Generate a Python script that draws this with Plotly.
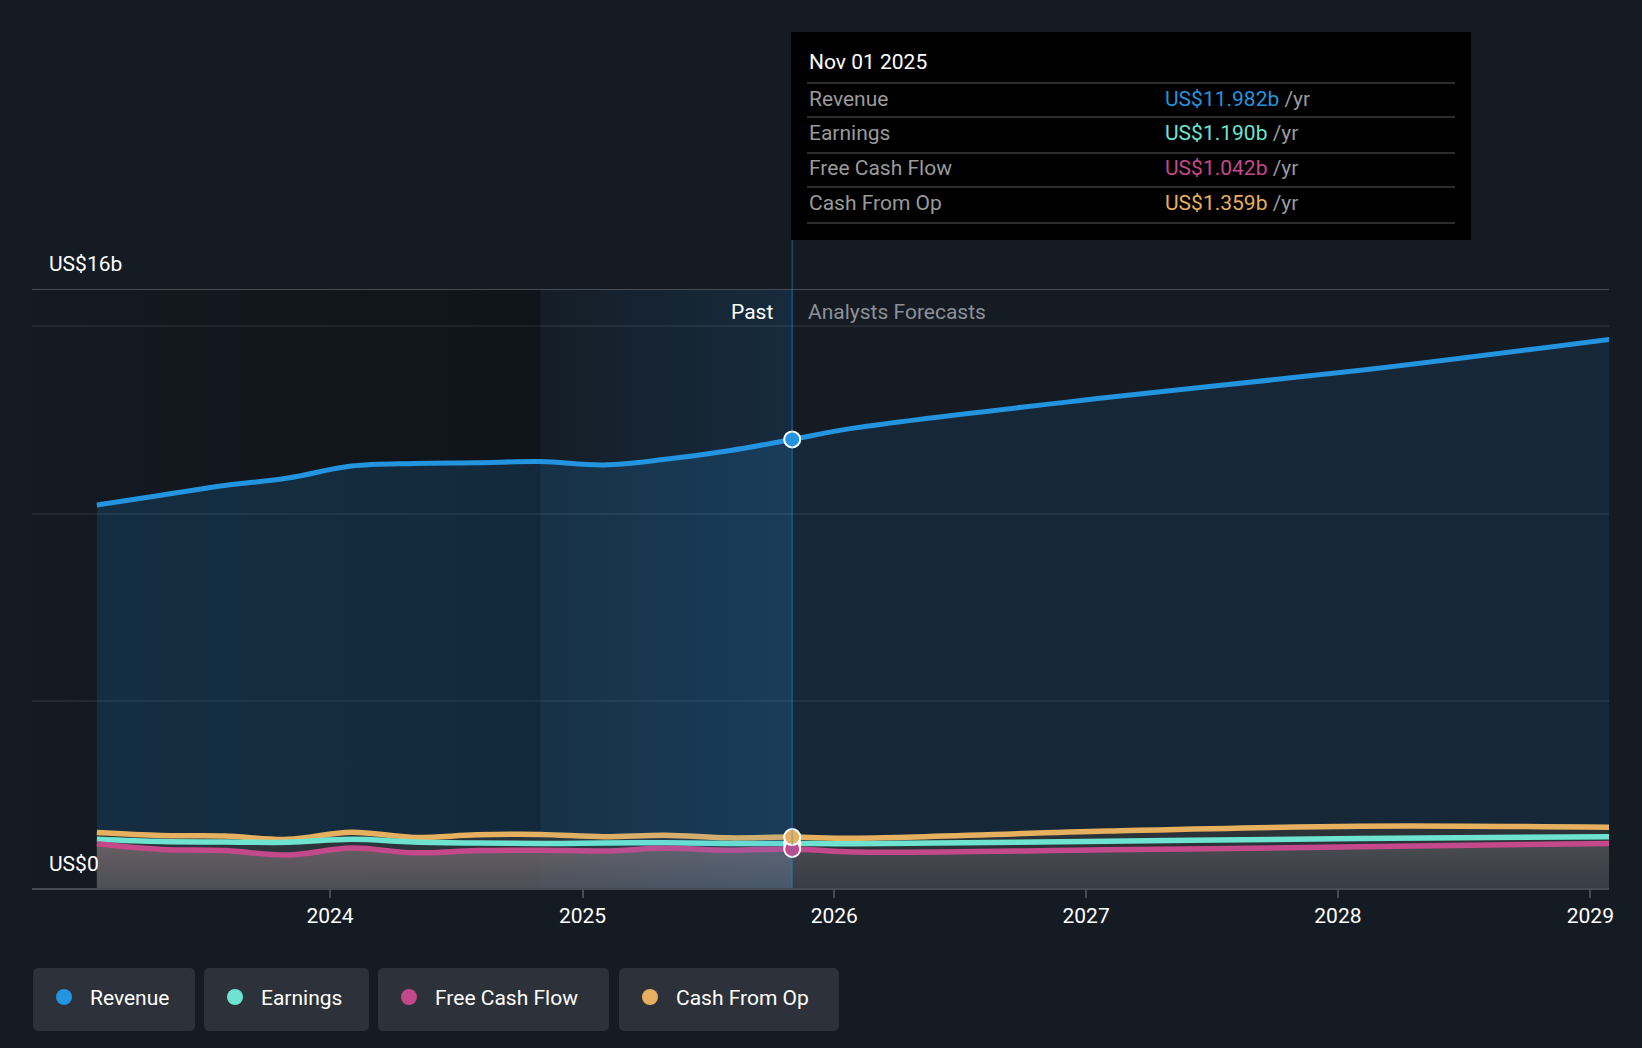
import plotly.graph_objects as go

# ---------------- data (US$ billions) ----------------
past_dates = ["2023-01-28", "2023-05-01", "2023-08-01", "2023-11-01",
              "2024-02-01", "2024-05-01", "2024-08-01", "2024-11-01",
              "2025-02-01", "2025-05-01", "2025-08-01", "2025-11-01"]
forecast_dates = ["2026-01-31", "2027-01-31", "2028-01-31", "2029-01-31"]

revenue_past = [10.23, 10.49, 10.75, 10.95, 11.27, 11.34, 11.36, 11.39, 11.30, 11.45, 11.68, 11.982]
revenue_fc = [12.29, 13.10, 13.82, 14.66]
earnings_past = [1.30, 1.24, 1.23, 1.22, 1.30, 1.23, 1.20, 1.19, 1.20, 1.21, 1.19, 1.190]
earnings_fc = [1.18, 1.25, 1.32, 1.37]
fcf_past = [1.18, 1.03, 1.00, 0.88, 1.07, 0.94, 1.00, 1.01, 0.99, 1.06, 1.01, 1.042]
fcf_fc = [0.96, 1.02, 1.10, 1.19]
cfo_past = [1.48, 1.40, 1.39, 1.30, 1.49, 1.35, 1.42, 1.43, 1.37, 1.41, 1.34, 1.359]
cfo_fc = [1.33, 1.52, 1.65, 1.62]

series_names = ["Revenue", "Earnings", "Free Cash Flow", "Cash From Op"]
series_colors = ["#2394df", "#6ee4d0", "#c4498a", "#e6b05f"]
tooltip_date = "Nov 01 2025"
tooltip_values = ["US$11.982b", "US$1.190b", "US$1.042b", "US$1.359b"]

year_ticks = ["2024-01-01", "2025-01-01", "2026-01-01", "2027-01-01", "2028-01-01", "2029-01-01"]
year_labels = ["2024", "2025", "2026", "2027", "2028", "2029"]
x_range = ["2022-10-26", "2029-01-28"]
highlight_start = "2024-11-01"
y_max = 16
y_grid = [5, 10, 15]
y_top_label = "US$16b"
y_zero_label = "US$0"

# ---------------- layout geometry (pixels) ----------------
W_FIG, H_FIG = 1642, 1048
L, R, T, B = 32, 1609, 289, 888
PW, PH = R - L, B - T


def px(x):
    return (x - L) / PW


def py(y):
    return (B - y) / PH


BG = "#151b23"
FONT = "Roboto"

hover_date = past_dates[-1]
all_dates = past_dates + forecast_dates
fc_dates = [hover_date] + forecast_dates

fig = go.Figure()

# darker "history" background band
fig.add_trace(go.Scatter(
    x=[x_range[0], highlight_start, highlight_start, x_range[0]],
    y=[0, 0, y_max, y_max], mode="lines", line=dict(width=0),
    fill="toself",
    fillgradient=dict(type="horizontal",
                      colorscale=[[0, "rgba(0,0,0,0.05)"], [1, "rgba(0,0,0,0.25)"]]),
    hoverinfo="skip", showlegend=False))

# revenue area fills
fig.add_trace(go.Scatter(x=past_dates, y=revenue_past, mode="lines", line=dict(width=0, shape="spline"),
                         fill="tozeroy", fillcolor="rgba(35,148,223,0.17)",
                         hoverinfo="skip", showlegend=False))
fig.add_trace(go.Scatter(x=fc_dates, y=[revenue_past[-1]] + revenue_fc, mode="lines",
                         line=dict(width=0, shape="spline"),
                         fill="tozeroy", fillcolor="rgba(35,148,223,0.11)",
                         hoverinfo="skip", showlegend=False))

# dark fill under cash from op
fig.add_trace(go.Scatter(x=all_dates, y=cfo_past + cfo_fc, mode="lines", line=dict(width=0, shape="spline"),
                         fill="tozeroy", fillcolor="rgba(52,55,58,0.7)",
                         hoverinfo="skip", showlegend=False))

# grey fill under free cash flow
fig.add_trace(go.Scatter(x=past_dates, y=fcf_past, mode="lines", line=dict(width=0, shape="spline"),
                         fill="tozeroy",
                         fillgradient=dict(type="vertical", start=0, stop=1.2,
                                           colorscale=[[0, "rgba(88,88,96,0.75)"], [1, "rgba(112,100,104,0.9)"]]),
                         hoverinfo="skip", showlegend=False))
fig.add_trace(go.Scatter(x=fc_dates, y=[fcf_past[-1]] + fcf_fc, mode="lines", line=dict(width=0, shape="spline"),
                         fill="tozeroy",
                         fillgradient=dict(type="vertical", start=0, stop=1.2,
                                           colorscale=[[0, "rgba(62,65,74,0.7)"], [1, "rgba(78,79,85,0.9)"]]),
                         hoverinfo="skip", showlegend=False))

# lines
line_data = [
    (cfo_past + cfo_fc, series_colors[3], 5.5),
    (earnings_past + earnings_fc, series_colors[1], 5.5),
    (fcf_past + fcf_fc, series_colors[2], 5.5),
    (revenue_past + revenue_fc, series_colors[0], 5),
]
for ys, col, w in line_data:
    fig.add_trace(go.Scatter(x=all_dates, y=ys, mode="lines",
                             line=dict(color=col, width=w, shape="spline"),
                             hoverinfo="skip", showlegend=False))

# highlighted last-year band
fig.add_trace(go.Scatter(
    x=[highlight_start, hover_date, hover_date, highlight_start],
    y=[0, 0, y_max, y_max], mode="lines", line=dict(width=0),
    fill="toself",
    fillgradient=dict(type="horizontal",
                      colorscale=[[0, "rgba(33,150,243,0.02)"], [1, "rgba(33,150,243,0.13)"]]),
    hoverinfo="skip", showlegend=False))

# hover markers
marker_vals = [(earnings_past[-1], series_colors[1]), (fcf_past[-1], series_colors[2]),
               (cfo_past[-1], series_colors[3]), (revenue_past[-1], series_colors[0])]
for v, col in marker_vals:
    fig.add_trace(go.Scatter(x=[hover_date], y=[v], mode="markers",
                             marker=dict(size=16, color=col, line=dict(color="white", width=2)),
                             hoverinfo="skip", showlegend=False))

shapes = []
annotations = []

# top line at y_max
shapes.append(dict(type="line", xref="paper", yref="y", x0=0, x1=1, y0=y_max, y1=y_max,
                   line=dict(color="#474c54", width=2), layer="above"))
# hover vertical line up to tooltip
shapes.append(dict(type="line", xref="x", yref="paper", x0=hover_date, x1=hover_date,
                   y0=0, y1=py(240), line=dict(color="rgba(35,148,223,0.38)", width=1.5), layer="above"))
# tooltip box
shapes.append(dict(type="rect", xref="paper", yref="paper", x0=px(791), x1=px(1471),
                   y0=py(240), y1=py(32), fillcolor="#000000", line=dict(width=0), layer="above"))
for sy in [83, 117, 153, 187, 223]:
    shapes.append(dict(type="line", xref="paper", yref="paper", x0=px(807), x1=px(1455),
                       y0=py(sy), y1=py(sy), line=dict(color="#3c3c3c", width=1.5), layer="above"))

annotations.append(dict(xref="paper", yref="paper", x=px(807), y=py(62), xanchor="left", yanchor="middle",
                        text=tooltip_date, showarrow=False,
                        font=dict(family=FONT, size=21, color="#ffffff")))
row_ys = [99, 133, 168, 203]
for name, val, col, ry in zip(series_names, tooltip_values, series_colors, row_ys):
    annotations.append(dict(xref="paper", yref="paper", x=px(807), y=py(ry), xanchor="left", yanchor="middle",
                            text=name, showarrow=False,
                            font=dict(family=FONT, size=21, color="#9a9a9a")))
    annotations.append(dict(xref="paper", yref="paper", x=px(1163), y=py(ry), xanchor="left", yanchor="middle",
                            text=f'<span style="color:{col}">{val}</span> /yr', showarrow=False,
                            font=dict(family=FONT, size=21, color="#9a9a9a")))

# Past / forecasts labels
annotations.append(dict(xref="x", yref="paper", x=hover_date, y=py(312), xanchor="right", yanchor="middle",
                        xshift=-17, text="Past", showarrow=False,
                        font=dict(family=FONT, size=21, color="#ffffff")))
annotations.append(dict(xref="x", yref="paper", x=hover_date, y=py(312), xanchor="left", yanchor="middle",
                        xshift=14, text="Analysts Forecasts", showarrow=False,
                        font=dict(family=FONT, size=21, color="#8c9198")))

# y labels
annotations.append(dict(xref="paper", yref="paper", x=px(47), y=py(264), xanchor="left", yanchor="middle",
                        text=y_top_label, showarrow=False,
                        font=dict(family=FONT, size=21, color="#ffffff")))
annotations.append(dict(xref="paper", yref="paper", x=px(47), y=py(864), xanchor="left", yanchor="middle",
                        text=y_zero_label, showarrow=False,
                        font=dict(family=FONT, size=21, color="#ffffff")))


# custom legend chips
def rrect_path(x0, y0, x1, y1, r):
    pts = [("M", [(x0 + r, y0)]), ("L", [(x1 - r, y0)]), ("Q", [(x1, y0), (x1, y0 + r)]),
           ("L", [(x1, y1 - r)]), ("Q", [(x1, y1), (x1 - r, y1)]), ("L", [(x0 + r, y1)]),
           ("Q", [(x0, y1), (x0, y1 - r)]), ("L", [(x0, y0 + r)]), ("Q", [(x0, y0), (x0 + r, y0)])]
    out = []
    for cmd, ps in pts:
        out.append(cmd + " " + " ".join(f"{px(a):.5f},{py(b):.5f}" for a, b in ps))
    return " ".join(out) + " Z"


chips = [(33, 195), (204, 369), (378, 609), (619, 839)]
for (cx0, cx1), name, col in zip(chips, series_names, series_colors):
    shapes.append(dict(type="path", xref="paper", yref="paper", path=rrect_path(cx0, 968, cx1, 1031, 6),
                       fillcolor="#2d3139", line=dict(width=0), layer="above"))
    dx = cx0 + 31
    shapes.append(dict(type="circle", xref="paper", yref="paper", x0=px(dx - 8), x1=px(dx + 8),
                       y0=py(997 + 8), y1=py(997 - 8), fillcolor=col, line=dict(width=0), layer="above"))
    annotations.append(dict(xref="paper", yref="paper", x=px(cx0 + 55), y=py(998), xanchor="left",
                            yanchor="middle", text=name, showarrow=False,
                            font=dict(family=FONT, size=21, color="#ffffff")))

fig.update_layout(
    width=W_FIG, height=H_FIG,
    margin=dict(l=L, r=W_FIG - R, t=T, b=H_FIG - B, pad=0),
    paper_bgcolor=BG, plot_bgcolor=BG,
    font=dict(family=FONT, color="#ffffff"),
    showlegend=False, hovermode=False,
    shapes=shapes, annotations=annotations,
    xaxis=dict(type="date", range=x_range, tickvals=year_ticks, ticktext=year_labels,
               showgrid=False, zeroline=False, showline=True, linecolor="#474c54", linewidth=2,
               ticks="outside", ticklen=8, tickwidth=2, tickcolor="#474c54",
               tickfont=dict(family=FONT, size=21, color="#ffffff"), fixedrange=True),
    yaxis=dict(range=[0, y_max], tickvals=y_grid, showticklabels=False, showgrid=True,
               gridcolor="#252b33", gridwidth=1.5, zeroline=False, showline=False, fixedrange=True),
)

fig.write_html(
    "out.html",
    config={"displayModeBar": False},
    post_script="document.body.style.margin='0';document.body.style.background='" + BG + "';",
)
